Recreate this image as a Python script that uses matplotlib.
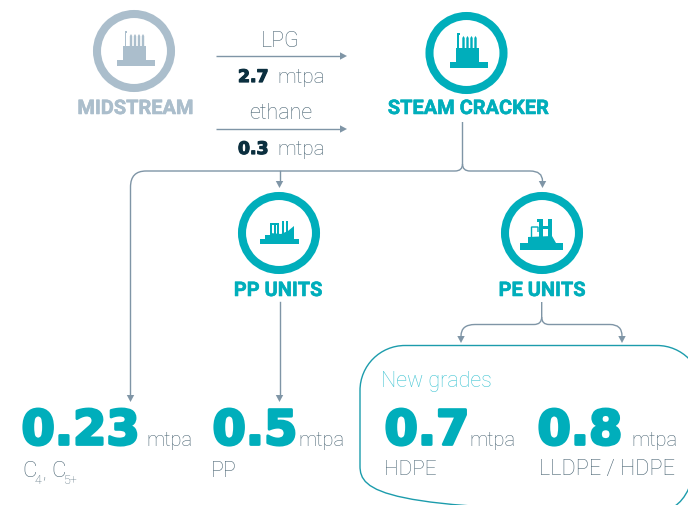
import matplotlib
matplotlib.use("Agg")
import matplotlib.pyplot as plt
import matplotlib.patheffects as pe
from matplotlib.patches import Circle, Polygon, Rectangle, PathPatch
from matplotlib.path import Path

TEAL = "#00AEBB"
GREY = "#ABBECC"
INK = "#0B2F3F"
TXT = "#4C6675"
LINE = "#7F95A6"
BOX = "#1C9CAC"
NEWG = "#45C6D4"
LIGHT = ["Roboto", "Lato", "DejaVu Sans"]

feed_names = ["LPG", "ethane"]
feed_values = ["2.7", "0.3"]
unit_names = ["MIDSTREAM", "STEAM CRACKER", "PP UNITS", "PE UNITS"]
output_values = ["0.23", "0.5", "0.7", "0.8"]
output_products = ["C", "PP", "HDPE", "LLDPE / HDPE"]
box_title = "New grades"
unit_label = "mtpa"

fig = plt.figure(figsize=(6.88, 5.06), dpi=100)
ax = fig.add_axes([0, 0, 1, 1])
ax.set_xlim(0, 688)
ax.set_ylim(506, 0)
ax.axis("off")


def light(x, y, s, size, color=TXT, ha="left"):
    ax.text(x, y, s, fontsize=size, color=color, ha=ha, va="baseline",
            family=LIGHT, fontweight="light")


def heavy(x, y, s, size, color=TEAL, stroke=2.0):
    t = ax.text(x, y, s, fontsize=size, color=color, ha="left", va="baseline",
                family="DejaVu Sans", fontweight="bold")
    t.set_path_effects([pe.withStroke(linewidth=stroke, foreground=color)])


def label(x, y, s, color=TEAL):
    t = ax.text(x, y, s, fontsize=14.4, color=color, ha="center", va="baseline",
                family="Roboto", fontweight="bold")
    t.set_path_effects([pe.withStroke(linewidth=0.4, foreground=color)])


def ring(cx, cy, color):
    ax.add_patch(Circle((cx, cy), 37, fill=False, ec=color, lw=5.8))


def rect(x0, y0, x1, y1, color):
    ax.add_patch(Rectangle((x0, y0), x1 - x0, y1 - y0, fc=color, ec="none"))


def cracker(cx, cy, color):
    rect(cx - 17, cy + 9, cx + 21, cy + 15, color)
    rect(cx - 11, cy - 5, cx + 12, cy + 9, color)
    rect(cx - 9.5, cy - 20, cx - 8, cy - 5, color)
    rect(cx - 9.5, cy - 20, cx - 7, cy - 18, color)
    for dx in (-3, 1, 5, 9):
        ax.add_patch(Polygon([(cx + dx - 1.2, cy - 5), (cx + dx - 1.2, cy - 15),
                              (cx + dx, cy - 17), (cx + dx + 1.2, cy - 15),
                              (cx + dx + 1.2, cy - 5)], fc=color, ec="none"))


def pp_icon(cx, cy, color):
    ax.add_patch(Polygon([(cx - 19, cy + 11), (cx - 19, cy + 6), (cx - 14, cy + 6),
                          (cx - 14, cy + 2), (cx - 9, cy + 2), (cx - 9, cy),
                          (cx + 2, cy + 1), (cx + 9, cy - 2), (cx + 15, cy - 7),
                          (cx + 15, cy + 6), (cx + 20, cy + 6), (cx + 20, cy + 11)],
                         fc=color, ec="none"))
    for x0, x1, y0 in ((-9, -7, -10), (-5.5, -3.5, -10), (-2, 0, -10),
                       (3, 5, -12), (7, 9, -12)):
        rect(cx + x0, cy + y0, cx + x1, cy + 2, color)
    rect(cx - 9, cy - 10, cx, cy - 8.5, color)


def pe_icon(cx, cy, color):
    rect(cx - 22, cy + 10, cx + 21, cy + 17, color)
    ax.add_patch(Polygon([(cx - 14, cy + 10), (cx - 14, cy + 4), (cx + 10, cy + 3),
                          (cx + 14, cy + 10)], fc=color, ec="none"))
    for x0, x1 in ((-3, 1), (6, 10)):
        rect(cx + x0, cy - 14, cx + x1, cy + 4, color)
    rect(cx - 5, cy - 14, cx + 1, cy - 11, color)
    rect(cx - 3, cy - 7, cx + 10, cy - 4, color)
    ax.add_patch(PathPatch(Path([(cx - 10.5, cy + 5), (cx - 10.5, cy - 6), (cx - 7, cy - 6),
                                 (cx - 4, cy - 6), (cx - 4, cy - 1)],
                                [Path.MOVETO, Path.LINETO, Path.CURVE3, Path.CURVE3, Path.LINETO]),
                           fill=False, ec=color, lw=1))


def arrowhead(x, y, direction="down"):
    if direction == "down":
        pts = [(x - 3.7, y - 7), (x + 3.7, y - 7), (x, y)]
    else:
        pts = [(x - 7, y - 3.7), (x - 7, y + 3.7), (x, y)]
    ax.add_patch(Polygon(pts, fc=LINE, ec="none", zorder=3))


def curve(points, lw=1.0):
    codes = [Path.MOVETO]
    verts = [points[0]]
    for kind, *pts in points[1:]:
        if kind == "L":
            codes.append(Path.LINETO)
            verts.append(pts[0])
        else:
            codes += [Path.CURVE3, Path.CURVE3]
            verts += [pts[0], pts[1]]
    ax.add_patch(PathPatch(Path(verts, codes), fill=False, ec=LINE, lw=lw))


def rounded_box(x0, y0, x1, y1, r, color):
    k = 0.5523 * r
    verts = [(x0 + r, y0), (x1 - r, y0),
             (x1 - r + k, y0), (x1, y0 + r - k), (x1, y0 + r),
             (x1, y1 - r),
             (x1, y1 - r + k), (x1 - r + k, y1), (x1 - r, y1),
             (x0 + r, y1),
             (x0 + r - k, y1), (x0, y1 - r + k), (x0, y1 - r),
             (x0, y0 + r),
             (x0, y0 + r - k), (x0 + r - k, y0), (x0 + r, y0)]
    c4 = [Path.CURVE4] * 3
    codes = [Path.MOVETO, Path.LINETO] + c4 + [Path.LINETO] + c4 + [Path.LINETO] + c4 + [Path.LINETO] + c4
    ax.add_patch(PathPatch(Path(verts, codes), fill=False, ec=color, lw=1.0))


# Nodes
ring(134, 52, GREY)
cracker(134, 52, GREY)
label(135.5, 115, unit_names[0], GREY)
ring(466.5, 54, TEAL)
cracker(466.5, 54, TEAL)
label(468.5, 115, unit_names[1])
ring(279, 234, TEAL)
pp_icon(279, 234, TEAL)
label(278, 297, unit_names[2])
ring(542, 234, TEAL)
pe_icon(542, 234, TEAL)
label(542, 297, unit_names[3])

# Feed arrows
for y, yn, yv, name, val in ((57, 47, 83, feed_names[0], feed_values[0]),
                             (130, 119, 155, feed_names[1], feed_values[1])):
    ax.plot([216, 341], [y, y], color=LINE, lw=1.0, solid_capstyle="butt")
    arrowhead(347, y, "right")
    light(280.5, yn, name, 15.5, ha="center")
    heavy(238, yv, val, 12.4, INK, stroke=0.9)
    light(277, yv, unit_label, 15)

# Connectors
curve([(462.5, 123), ("L", (462.5, 165)), ("Q", (462.5, 172), (455, 172)),
       ("L", (146, 172)), ("Q", (130.5, 172), (130.5, 188)), ("L", (130.5, 397))])
curve([(462.5, 165), ("Q", (462.5, 172), (470, 172)), ("L", (530, 172)),
       ("Q", (542.5, 172), (542.5, 182))])
ax.plot([279.5, 279.5], [172, 183], color=LINE, lw=1.0)
arrowhead(130.5, 403)
arrowhead(279.5, 189)
arrowhead(542.5, 189)
ax.plot([279.5, 279.5], [303, 397], color=LINE, lw=1.0)
arrowhead(279.5, 403)
curve([(541.7, 303), ("L", (541.7, 318)), ("Q", (541.7, 325.5), (534, 325.5)),
       ("L", (475, 325.5)), ("Q", (461, 325.5), (461, 337))])
curve([(541.7, 318), ("Q", (541.7, 325.5), (549, 325.5)), ("L", (610, 325.5)),
       ("Q", (622, 325.5), (622, 337))])
arrowhead(461, 344)
arrowhead(622, 344)

# New grades box
rounded_box(360, 346.5, 702, 512, 45, BOX)
light(381, 387, box_title, 15.5, NEWG)

# Output figures
for x, xu, val in ((21.5, 146, output_values[0]), (212.5, 298, output_values[1]),
                   (384.5, 469, output_values[2]), (537.5, 631, output_values[3])):
    heavy(x, 445.5, val, 34.5)
    light(xu, 446.5, unit_label, 14.6)

# Products
light(22, 477, output_products[0], 16)
light(35, 484, "4", 9)
light(42.5, 477, ",", 13)
light(51.5, 477, output_products[0], 16)
light(64, 484, "5+", 9)
light(211, 477, output_products[1], 15.5)
light(384, 475, output_products[2], 15)
light(539, 475, output_products[3], 15.7)

fig.savefig("out.png", dpi=100)
